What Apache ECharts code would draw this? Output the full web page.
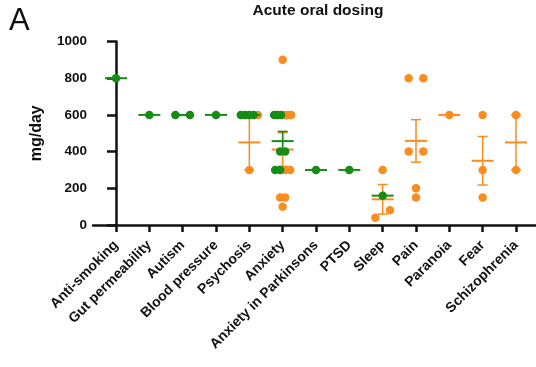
<!DOCTYPE html>
<html>
<head>
<meta charset="utf-8">
<script src="https://cdn.jsdelivr.net/npm/echarts@6/dist/echarts.min.js"></script>
<style>
html,body{margin:0;padding:0;background:#fff;}
#chart{width:536px;height:367px;}
</style>
</head>
<body>
<div id="chart"></div>
<script>
// ---------------- data ----------------
const categories = ['Anti-smoking', 'Gut permeability', 'Autism', 'Blood pressure', 'Psychosis',
  'Anxiety', 'Anxiety in Parkinsons', 'PTSD', 'Sleep', 'Pain', 'Paranoia', 'Fear', 'Schizophrenia'];

// green group: category of each study and its dose (mg/day)
const greenCategory = ['Anti-smoking', 'Gut permeability', 'Autism', 'Autism', 'Blood pressure',
  'Psychosis', 'Psychosis', 'Psychosis', 'Psychosis',
  'Anxiety', 'Anxiety', 'Anxiety', 'Anxiety', 'Anxiety', 'Anxiety', 'Anxiety',
  'Anxiety in Parkinsons', 'PTSD', 'Sleep'];
const greenDose = [800, 600, 600, 600, 600,
  600, 600, 600, 600,
  600, 600, 600, 400, 400, 300, 300,
  300, 300, 160];

// orange group
const orangeCategory = ['Psychosis', 'Psychosis',
  'Anxiety', 'Anxiety', 'Anxiety', 'Anxiety', 'Anxiety', 'Anxiety', 'Anxiety', 'Anxiety', 'Anxiety',
  'Sleep', 'Sleep', 'Sleep',
  'Pain', 'Pain', 'Pain', 'Pain', 'Pain', 'Pain',
  'Paranoia', 'Fear', 'Fear', 'Fear', 'Schizophrenia', 'Schizophrenia'];
const orangeDose = [600, 300,
  900, 600, 600, 600, 300, 300, 150, 150, 100,
  300, 80, 40,
  800, 800, 400, 400, 200, 150,
  600, 600, 300, 150, 600, 300];

const yTicks = [0, 200, 400, 600, 800, 1000];

// ---------------- layout / style ----------------
const GREEN = '#168c16';
const ORANGE = '#f98d1f';
const FONT = '"Liberation Sans", Arial, sans-serif';
const GRID = {left: 93, right: 0, top: 41.5, bottom: 142};
const X_MIN = -0.69, X_MAX = 12.6;
const PX_PER_UNIT = (536 - GRID.left - GRID.right) / (X_MAX - X_MIN);
const PX_PER_DOSE = (367 - GRID.top - GRID.bottom) / 1000;
const DOT = 8.5;

// beeswarm-like horizontal spreading of overlapping dots (layout rule)
function layoutPoints() {
  const out = {green: [], orange: []};
  categories.forEach((cat, ci) => {
    const items = [];
    greenCategory.forEach((c, i) => { if (c === cat) items.push({s: 'green', v: greenDose[i], o: 0}); });
    orangeCategory.forEach((c, i) => { if (c === cat) items.push({s: 'orange', v: orangeDose[i], o: 1}); });
    if (!items.length) return;
    items.sort((a, b) => a.v - b.v || a.o - b.o);
    const clusters = [];
    let cur = [items[0]];
    for (let k = 1; k < items.length; k++) {
      if ((items[k].v - cur[cur.length - 1].v) * PX_PER_DOSE < DOT) cur.push(items[k]);
      else { clusters.push(cur); cur = [items[k]]; }
    }
    clusters.push(cur);
    const dense = items.length >= 10;
    clusters.forEach(cl => {
      const n = cl.length;
      let s = n > 1 ? Math.min(14.6, 17 / (n - 1)) : 0;
      if (dense) s = Math.min(5, s);
      cl.forEach((it, k) => {
        const off = (k - (n - 1) / 2) * s / PX_PER_UNIT;
        out[it.s].push([ci + off, it.v]);
      });
    });
  });
  return out;
}

function stats(catArr, doseArr) {
  const res = [];
  categories.forEach((cat, ci) => {
    const vals = doseArr.filter((d, i) => catArr[i] === cat);
    if (!vals.length) return;
    const n = vals.length;
    const mean = vals.reduce((a, b) => a + b, 0) / n;
    let sem = 0;
    if (n > 1) {
      const sd = Math.sqrt(vals.reduce((a, b) => a + (b - mean) * (b - mean), 0) / (n - 1));
      sem = sd / Math.sqrt(n);
    }
    res.push([ci, mean, mean - sem, mean + sem, n]);
  });
  return res;
}

function barRenderer(color) {
  return function (params, api) {
    const x = api.value(0);
    const c = api.coord([x, api.value(1)]);
    const lo = api.coord([x, api.value(2)]);
    const hi = api.coord([x, api.value(3)]);
    const n = api.value(4);
    const children = [];
    if (n > 1) {
      children.push({type: 'line', shape: {x1: c[0], y1: lo[1], x2: c[0], y2: hi[1]}, style: {stroke: color, lineWidth: 1.5}});
      children.push({type: 'line', shape: {x1: c[0] - 5, y1: lo[1], x2: c[0] + 5, y2: lo[1]}, style: {stroke: color, lineWidth: 1.5}});
      children.push({type: 'line', shape: {x1: c[0] - 5, y1: hi[1], x2: c[0] + 5, y2: hi[1]}, style: {stroke: color, lineWidth: 1.5}});
    }
    children.push({type: 'line', shape: {x1: c[0] - 11, y1: c[1], x2: c[0] + 11, y2: c[1]}, style: {stroke: color, lineWidth: 2}});
    return {type: 'group', children: children};
  };
}

const pts = layoutPoints();
const tickIdx = categories.map((c, i) => i);

const chart = echarts.init(document.getElementById('chart'), null, {renderer: 'canvas'});
chart.setOption({
  animation: false,
  backgroundColor: '#fff',
  grid: {left: GRID.left, right: GRID.right, top: GRID.top, bottom: GRID.bottom, containLabel: false, outerBoundsMode: 'none'},
  graphic: [
    {type: 'text', left: 9, top: 6, style: {text: 'A', font: 'normal 31px ' + FONT, fill: '#111'}},
    {type: 'text', x: 318, y: 11, style: {text: 'Acute oral dosing', font: 'bold 15.5px ' + FONT, fill: '#111', align: 'center', verticalAlign: 'middle'}}
  ],
  xAxis: {
    type: 'value', min: X_MIN, max: X_MAX,
    axisLine: {show: true, onZero: false, lineStyle: {color: '#111', width: 2.5}},
    axisTick: {show: true, customValues: tickIdx, length: 7, lineStyle: {color: '#111', width: 2.5}},
    axisLabel: {
      customValues: tickIdx, rotate: 45, margin: 18,
      formatter: v => categories[Math.round(v)] || '',
      color: '#111', fontWeight: 'bold', fontSize: 14, fontFamily: FONT
    },
    splitLine: {show: false}
  },
  yAxis: {
    type: 'value', min: 0, max: 1000, interval: 200,
    name: 'mg/day', nameLocation: 'middle', nameGap: 48,
    nameTextStyle: {color: '#111', fontWeight: 'bold', fontSize: 16, fontFamily: FONT},
    axisLine: {show: true, lineStyle: {color: '#111', width: 2.5}},
    axisTick: {show: true, length: 9, lineStyle: {color: '#111', width: 2.5}},
    axisLabel: {
      margin: 6, color: '#111', fontWeight: 'bold', fontSize: 13.5, fontFamily: FONT,
      formatter: v => yTicks.indexOf(v) >= 0 ? String(v) : ''
    },
    splitLine: {show: false}
  },
  series: [
    {type: 'scatter', name: 'orange', data: pts.orange, symbolSize: DOT, itemStyle: {color: ORANGE, opacity: 1}, z: 2},
    {type: 'custom', name: 'orangeMean', data: stats(orangeCategory, orangeDose), renderItem: barRenderer(ORANGE), z: 3},
    {type: 'scatter', name: 'green', data: pts.green, symbolSize: DOT, itemStyle: {color: GREEN, opacity: 1}, z: 4},
    {type: 'custom', name: 'greenMean', data: stats(greenCategory, greenDose), renderItem: barRenderer(GREEN), z: 5}
  ]
});
</script>
</body>
</html>
